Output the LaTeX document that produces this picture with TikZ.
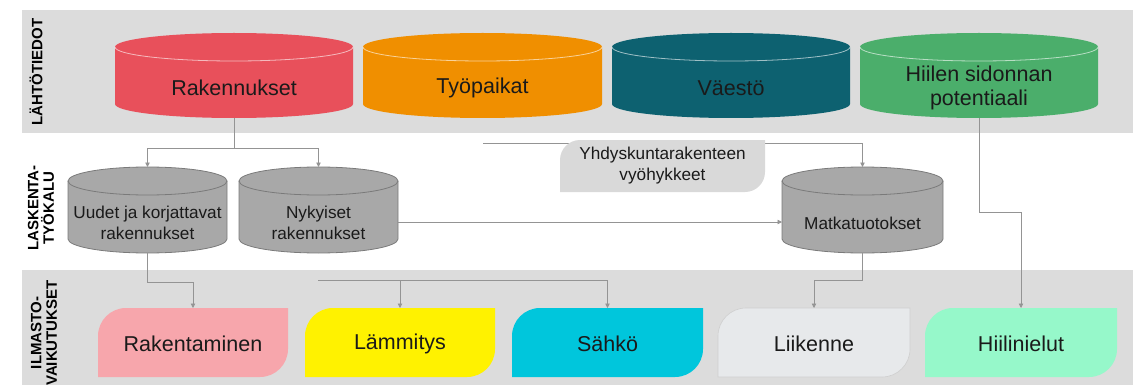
\documentclass[tikz,border=0pt]{standalone}
\usepackage{fontspec}
\setmainfont{Liberation Sans}
\usetikzlibrary{arrows.meta}
\definecolor{band}{HTML}{DCDCDC}
\definecolor{cred}{HTML}{E8505B}
\definecolor{corange}{HTML}{F08F00}
\definecolor{cteal}{HTML}{0D6170}
\definecolor{cgreen}{HTML}{4BAE6B}
\definecolor{cgray}{HTML}{A8A8A8}
\definecolor{cgrayline}{HTML}{7A7A7A}
\definecolor{cpink}{HTML}{F7A6AC}
\definecolor{cyellow}{HTML}{FFF200}
\definecolor{ccyan}{HTML}{00C6DC}
\definecolor{clight}{HTML}{E7E9EB}
\definecolor{clightline}{HTML}{CFCFCF}
\definecolor{cmint}{HTML}{96F8CA}
\definecolor{cyhd}{HTML}{D9D9D9}
\definecolor{connc}{HTML}{949494}
\definecolor{txtc}{HTML}{1A1A1A}

% cylinder outline: x0 x1 ytop ybot ry bodystyle seamstyle
\newcommand\cylshape[7]{%
  \pgfmathsetmacro\CYm{(#1+#2)/2}%
  \pgfmathsetmacro\CYkx{0.5523*(#2-#1)/2}%
  \pgfmathsetmacro\CYky{0.5523*#5}%
  \pgfmathsetmacro\CYa{#3+#5}%
  \pgfmathsetmacro\CYb{#4-#5}%
  \pgfmathsetmacro\CYs{#3+2*#5}%
  \path[#6] (#1,\CYa) -- (#1,\CYb)
    .. controls (#1,{\CYb+\CYky}) and ({\CYm-\CYkx},#4) .. (\CYm,#4)
    .. controls ({\CYm+\CYkx},#4) and (#2,{\CYb+\CYky}) .. (#2,\CYb)
    -- (#2,\CYa)
    .. controls (#2,{\CYa-\CYky}) and ({\CYm+\CYkx},#3) .. (\CYm,#3)
    .. controls ({\CYm-\CYkx},#3) and (#1,{\CYa-\CYky}) .. (#1,\CYa) -- cycle;
  \path[#7] (#1,\CYa)
    .. controls (#1,{\CYa+\CYky}) and ({\CYm-\CYkx},\CYs) .. (\CYm,\CYs)
    .. controls ({\CYm+\CYkx},\CYs) and (#2,{\CYa+\CYky}) .. (#2,\CYa);
}
% box with rounded top-left and bottom-right: x0 y0 x1 y1 r style
\newcommand\diagshape[6]{%
  \path[#6] (#1,#4) -- (#1,{#2+#5})
    .. controls (#1,{#2+0.4477*#5}) and ({#1+0.4477*#5},#2) .. ({#1+#5},#2)
    -- (#3,#2) -- (#3,{#4-#5})
    .. controls (#3,{#4-0.4477*#5}) and ({#3-0.4477*#5},#4) .. ({#3-#5},#4)
    -- cycle;
}
\newcommand\topcyl[5]{%
  \cylshape{#2}{#3}{33}{118}{14}{fill=#4}{draw=white,draw opacity=0.6,line width=0.8pt}%
  \pgfmathsetmacro\CYw{#3-#2}%
  \node[box, minimum width=\CYw pt, minimum height=85pt] (#1) at (\CYm,75.5) {};
  \node[bigtxt] (#1-t) at (\CYm,88) {#5};
}
\newcommand\graycyl[4]{%
  \cylshape{#2}{#3}{167}{253}{14}{fill=cgray,draw=cgrayline,line width=0.8pt}{draw=cgrayline,line width=0.8pt}%
  \pgfmathsetmacro\CYw{#3-#2}%
  \node[box, minimum width=\CYw pt, minimum height=86pt] (#1) at (\CYm,210) {};
  \node[midtxt] (#1-t) at (\CYm,223) {#4};
}
\newcommand\outbox[5]{%
  \diagshape{#2}{308}{#3}{377}{28}{#4}%
  \pgfmathsetmacro\CYm{(#2+#3)/2}%
  \pgfmathsetmacro\CYw{#3-#2}%
  \node[box, minimum width=\CYw pt, minimum height=69pt] (#1) at (\CYm,342.5) {};
  \node[bigtxt] (#1-t) at (\CYm,344) {#5};
}

\begin{document}
\begin{tikzpicture}[x=1pt,y=-1pt,
  box/.style={inner sep=0pt, outer sep=0pt},
  bigtxt/.style={font=\fontsize{21.5}{24}\selectfont, align=center, text=txtc, inner sep=0pt},
  midtxt/.style={font=\fontsize{17.2}{21}\selectfont, align=center, text=txtc, inner sep=0pt},
  bandtxt/.style={font=\bfseries\fontsize{15}{15.5}\selectfont, align=center, rotate=90, text=black, inner sep=0pt},
  conn/.style={draw=connc, line width=0.8pt},
  arr/.style={conn, -{Triangle[length=4.5pt,width=4.5pt]}},
]
\useasboundingbox (0,0) rectangle (1142,385);
% bands
\fill[band] (22,10) rectangle (1133,133);
\fill[band] (22,270) rectangle (1133,385);
\node[bandtxt] (l1) at (36,72) {LÄHTÖTIEDOT};
\node[bandtxt] (l2) at (41,208) {LASKENTA-\\TYÖKALU};
\node[bandtxt] (l3) at (44,333) {ILMASTO-\\VAIKUTUKSET};

% top cylinders
\topcyl{rak}{115}{353}{cred}{Rakennukset}
\topcyl{tyo}{363}{602}{corange}{Työpaikat}
\topcyl{vae}{612}{850}{cteal}{Väestö}
\topcyl{hiil}{860}{1098}{cgreen}{Hiilen sidonnan\\potentiaali}

% calculation cylinders
\graycyl{uud}{68}{227}{Uudet ja korjattavat\\rakennukset}
\graycyl{nyk}{239}{398}{Nykyiset\\rakennukset}
\graycyl{matk}{782}{943}{Matkatuotokset}

% output boxes
\outbox{rakt}{98}{288}{fill=cpink}{Rakentaminen}
\outbox{lamm}{305}{495}{fill=cyellow}{Lämmitys}
\outbox{sahko}{512}{703}{fill=ccyan}{Sähkö}
\outbox{liik}{718}{910}{fill=clight,draw=clightline,line width=0.6pt}{Liikenne}
\outbox{hnl}{925}{1117}{fill=cmint}{Hiilinielut}

% connectors
\coordinate (j1) at (234,148);
\draw[conn] (rak.south) -- (j1);
\draw[arr] (j1) -| (uud.north);
\draw[arr] (j1) -| (nyk.north);
\coordinate (ys) at (483,143);
\draw[arr] (ys) -| (matk.north);
\draw[arr] ([yshift=-12pt]nyk.east) -- ([yshift=-12pt]matk.west);
\draw[arr] (uud.south) -- ++(0,29) -| (rakt.north);
\coordinate (hs) at (318,280);
\draw[arr] (hs) -| (lamm.north);
\draw[arr] (hs) -| (sahko.north);
\draw[arr] (matk.south) -- ++(0,27) -| (liik.north);
\draw[arr] (hiil.south) -- ++(0,94) -| (hnl.north);

% zone box on top of the line
\diagshape{560}{140}{765}{192}{20}{fill=cyhd}
\node[box, midtxt, minimum width=205pt, minimum height=52pt] (yhd) at (662.5,166) {Yhdyskuntarakenteen\\vyöhykkeet};
\end{tikzpicture}
\end{document}
